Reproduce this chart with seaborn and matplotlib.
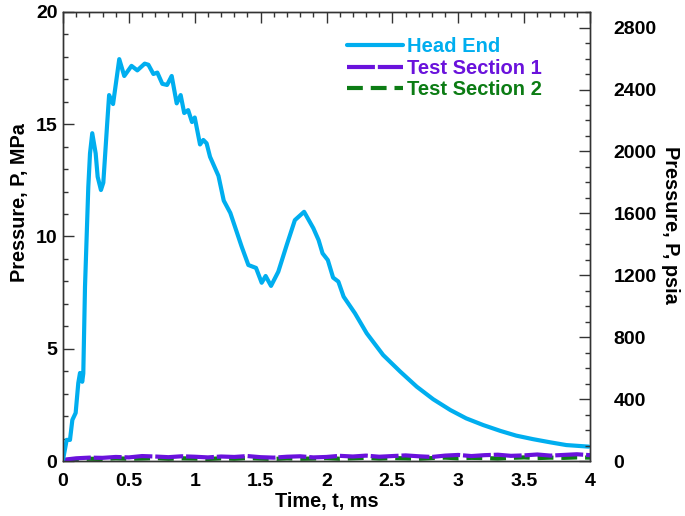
import numpy as np
import pandas as pd
import matplotlib
matplotlib.use("Agg")
import matplotlib.pyplot as plt
from matplotlib.ticker import MultipleLocator
import seaborn as sns

# ---- data ----
head_t = [0.0, 0.028, 0.053, 0.071, 0.096, 0.116, 0.129, 0.146, 0.154, 0.167, 0.192, 0.205,
          0.222, 0.248, 0.263, 0.288, 0.306, 0.335, 0.35, 0.38, 0.427, 0.465, 0.52, 0.564,
          0.62, 0.648, 0.686, 0.716, 0.754, 0.79, 0.825, 0.863, 0.893, 0.92, 0.95, 0.979,
          1.0, 1.04, 1.065, 1.09, 1.116, 1.18, 1.22, 1.27, 1.305, 1.356, 1.407, 1.465,
          1.508, 1.538, 1.579, 1.634, 1.698, 1.76, 1.83, 1.90, 1.94, 1.97, 2.01, 2.05,
          2.09, 2.13, 2.216, 2.305, 2.43, 2.56, 2.685, 2.81, 2.94, 3.06, 3.19, 3.32,
          3.44, 3.57, 3.70, 3.82, 3.99]
head_p = [0.05, 0.94, 0.94, 1.83, 2.14, 3.47, 3.92, 3.53, 3.9, 7.76, 12.2, 13.7,
          14.6, 13.7, 12.66, 12.07, 12.4, 15.0, 16.3, 15.9, 17.9, 17.15, 17.6, 17.4,
          17.7, 17.65, 17.24, 17.3, 16.8, 16.75, 17.15, 15.93, 16.3, 15.5, 15.63, 15.1,
          15.3, 14.1, 14.3, 14.15, 13.55, 12.7, 11.6, 11.05, 10.44, 9.55, 8.73, 8.6,
          7.94, 8.24, 7.8, 8.43, 9.62, 10.73, 11.1, 10.37, 9.84, 9.25, 8.95, 8.17,
          7.99, 7.32, 6.58, 5.69, 4.72, 3.98, 3.31, 2.75, 2.27, 1.9, 1.6, 1.34,
          1.13, 0.97, 0.83, 0.71, 0.64]

ts_t = [round(0.1 * i, 1) for i in range(41)]
ts1_p = [0.05, 0.12, 0.15, 0.14, 0.18, 0.16, 0.22, 0.20, 0.17, 0.21, 0.19, 0.16, 0.20, 0.18,
         0.22, 0.17, 0.15, 0.19, 0.21, 0.16, 0.18, 0.23, 0.20, 0.24, 0.19, 0.22, 0.25, 0.21,
         0.18, 0.24, 0.27, 0.22, 0.26, 0.28, 0.23, 0.25, 0.29, 0.24, 0.27, 0.30, 0.26]
ts2_p = [0.03, 0.08, 0.10, 0.09, 0.12, 0.10, 0.11, 0.13, 0.10, 0.12, 0.11, 0.09, 0.12, 0.10,
         0.13, 0.11, 0.09, 0.12, 0.10, 0.11, 0.13, 0.10, 0.12, 0.14, 0.11, 0.13, 0.12, 0.10,
         0.13, 0.15, 0.12, 0.14, 0.13, 0.11, 0.14, 0.16, 0.13, 0.15, 0.14, 0.16, 0.15]

labels = ["Head End", "Test Section 1", "Test Section 2"]
colors = ["#00AEEF", "#6A12DC", "#0C7C14"]
MPA_TO_PSI = 145.038

# ---- style ----
sns.set_theme(style="white")
plt.rcParams["font.family"] = ["Liberation Sans", "DejaVu Sans"]
plt.rcParams["font.weight"] = "bold"
plt.rcParams["text.color"] = "black"
plt.rcParams["axes.labelcolor"] = "black"
plt.rcParams["xtick.color"] = "black"
plt.rcParams["ytick.color"] = "black"

TICK_FS = 14
LABEL_FS = 14.3

fig = plt.figure(figsize=(6.85, 5.16), dpi=100)
ax = fig.add_axes([63 / 685, 1 - 461 / 516, (590 - 63) / 685, (461 - 12) / 516])

df_head = pd.DataFrame({"t": head_t, "p": head_p})
df_ts1 = pd.DataFrame({"t": ts_t, "p": ts1_p})
df_ts2 = pd.DataFrame({"t": ts_t, "p": ts2_p})

sns.lineplot(data=df_ts2, x="t", y="p", ax=ax, color=colors[2], lw=3, label=labels[2], zorder=2)
ax.lines[-1].set_dashes([3.8, 1.9])
sns.lineplot(data=df_ts1, x="t", y="p", ax=ax, color=colors[1], lw=3, label=labels[1], zorder=3)
ax.lines[-1].set_dashes([6.7, 0.7])
sns.lineplot(data=df_head, x="t", y="p", ax=ax, color=colors[0], lw=3, label=labels[0], zorder=4)

ax.set_xlim(0, 4)
ax.set_ylim(0, 20)
ax.xaxis.set_major_locator(MultipleLocator(0.5))
ax.xaxis.set_minor_locator(MultipleLocator(0.1))
ax.yaxis.set_major_locator(MultipleLocator(5))
ax.yaxis.set_minor_locator(MultipleLocator(1))
ax.set_xticks([0, 0.5, 1, 1.5, 2, 2.5, 3, 3.5, 4])
ax.set_xticklabels(["0", "0.5", "1", "1.5", "2", "2.5", "3", "3.5", "4"])
ax.tick_params(axis="both", which="major", direction="in", length=8, width=1,
               labelsize=TICK_FS, color="#333333", labelcolor="black")
ax.tick_params(axis="both", which="minor", direction="in", length=3.5, width=1, color="#333333")
ax.tick_params(axis="x", which="major", pad=9)
ax.tick_params(axis="y", which="major", pad=4)
ax.tick_params(axis="x", top=True, which="both", labeltop=False)
ax.tick_params(axis="y", left=True, right=False, which="both")
for lab in ax.get_xticklabels() + ax.get_yticklabels():
    lab.set_fontweight("bold")
ax.set_xlabel("Time, t, ms", fontsize=LABEL_FS, fontweight="bold", labelpad=1)
ax.set_ylabel("Pressure, P, MPa", fontsize=LABEL_FS, fontweight="bold", va="center")
ax.yaxis.set_label_coords(-0.0825, 0.575)
for s in ax.spines.values():
    s.set_color("#333333")
    s.set_linewidth(1)

ax2 = ax.twinx()
ax2.set_ylim(0, 20 * MPA_TO_PSI)
ax2.yaxis.set_major_locator(MultipleLocator(400))
ax2.yaxis.set_minor_locator(MultipleLocator(100))
ax2.tick_params(axis="y", which="major", direction="in", length=8, width=1,
                labelsize=TICK_FS, color="#333333", labelcolor="black", pad=17)
ax2.tick_params(axis="y", which="minor", direction="in", length=3.5, width=1, color="#333333")
for lab in ax2.get_yticklabels():
    lab.set_fontweight("bold")
ax2.set_ylabel("Pressure, P, psia", fontsize=LABEL_FS, fontweight="bold", rotation=270,
               va="center")
ax2.yaxis.set_label_coords(1.152, 0.526)
ax2.grid(False)
for s in ax2.spines.values():
    s.set_color("#333333")
    s.set_linewidth(1)

handles, labs = ax.get_legend_handles_labels()
order = [labs.index(l) for l in labels]
leg = ax.legend([handles[i] for i in order], [labs[i] for i in order],
                loc="upper left", bbox_to_anchor=(0.505, 0.984), frameon=False,
                handlelength=2.75, handletextpad=0.2, labelspacing=0.12,
                prop={"size": 14.5, "weight": "bold"})
for txt, c in zip(leg.get_texts(), colors):
    txt.set_color(c)

fig.savefig("out.png", dpi=100)
